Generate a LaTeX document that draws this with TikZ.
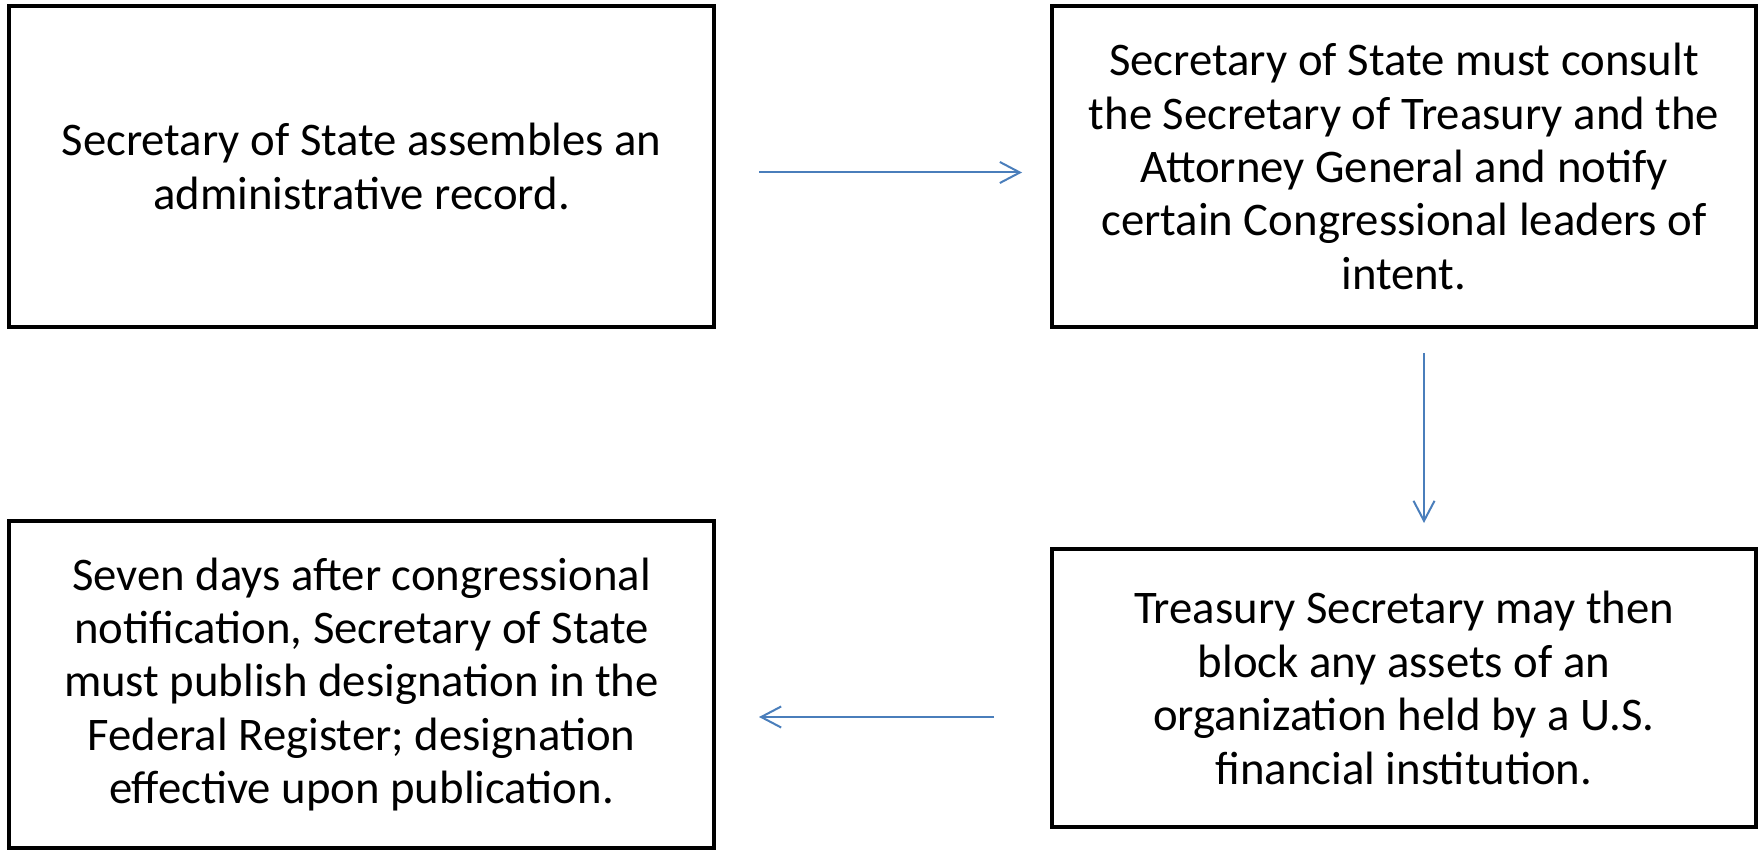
\documentclass[tikz,border=0pt]{standalone}
\usepackage{fontspec}
\setmainfont{Carlito}
\usetikzlibrary{arrows.meta}
\definecolor{arrowblue}{RGB}{74,126,187}

\begin{document}
\begin{tikzpicture}
[stepbox/.style={rectangle, draw=black, line width=0.4mm, align=center,
   font=\fontsize{13.3}{15.2}\selectfont, inner sep=0pt},
 flowarrow/.style={draw=arrowblue, line width=0.2mm,
   -{Straight Barb[length=2mm, width=2.1mm, line width=0.2mm]}}]
\useasboundingbox (0,0) rectangle (17.64,8.54);
\node[stepbox, minimum width=7.05cm, minimum height=3.21cm] (record) at (3.615,6.875)
  {Secretary of State assembles an\\administrative record.};
\node[stepbox, minimum width=7.04cm, minimum height=3.21cm] (consult) at (14.04,6.875)
  {Secretary of State must consult\\the Secretary of Treasury and the\\Attorney General and notify\\certain Congressional leaders of\\intent.};
\node[stepbox, minimum width=7.04cm, minimum height=2.78cm] (block) at (14.04,1.66)
  {Treasury Secretary may then\\block any assets of an\\organization held by a U.S.\\financial institution.};
\node[stepbox, minimum width=7.05cm, minimum height=3.27cm] (publish) at (3.615,1.695)
  {Seven days after congressional\\notification, Secretary of State\\must publish designation in the\\Federal Register; designation\\effective upon publication.};
\draw[flowarrow, shorten <=4.3mm, shorten >=2.8mm] ([yshift=-0.6mm]record.east) -- ([yshift=-0.6mm]consult.west);
\draw[flowarrow, shorten <=2.4mm, shorten >=2.4mm] ([xshift=2mm]consult.south) -- ([xshift=2mm]block.north);
\draw[flowarrow, shorten <=5.6mm, shorten >=4.3mm] ([yshift=-2.9mm]block.west) -- ([yshift=-2.9mm]block.west -| publish.east);
\end{tikzpicture}
\end{document}
